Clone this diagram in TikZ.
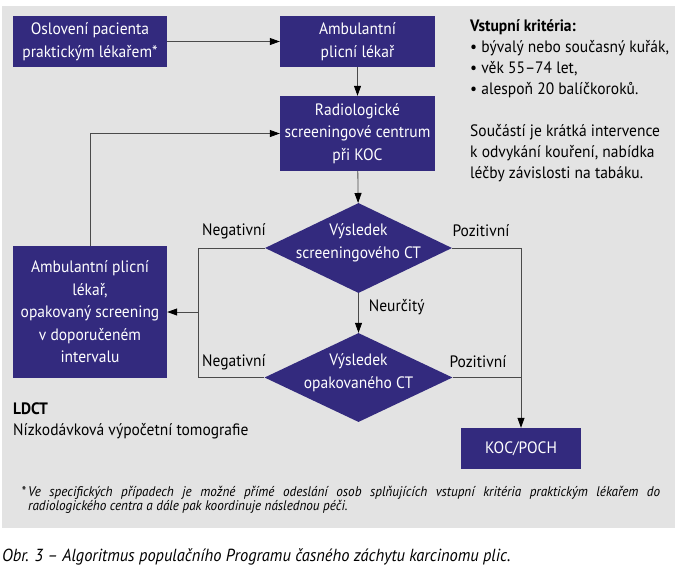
\documentclass[tikz,border=0pt]{standalone}
\usepackage{fontspec}
\setmainfont[FakeStretch=0.94]{PT Sans}
\usetikzlibrary{arrows.meta,shapes.geometric,calc}

\definecolor{boxblue}{HTML}{332A7E}
\definecolor{panelgray}{HTML}{E3E3E3}
\definecolor{linegray}{HTML}{4A4A4A}

\newcommand\boxfont{\fontsize{16.5}{22.5}\selectfont}
\newcommand\notefont{\fontsize{16.5}{21}\selectfont}
\newcommand\footfont{\fontsize{14}{14.5}\selectfont\itshape}

\tikzset{
  stepbox/.style={fill=boxblue, text=white, align=center, inner sep=0pt, font=\boxfont},
  decision/.style={diamond, fill=boxblue, inner sep=0pt},
  dtext/.style={text=white, align=center, inner sep=0pt, font=\boxfont},
  conn/.style={draw=linegray, line width=0.8pt},
  tip/.style={-{Triangle[length=10pt,width=7pt,black]}},
  lbl/.style={font=\boxfont, inner sep=0pt}
}

\begin{document}
\begin{tikzpicture}[x=1pt, y=-1pt]
   \useasboundingbox (0,0) rectangle (676,579);
   \fill[panelgray] (2,6) rectangle (675,528);

   % boxes
   \node[stepbox, minimum width=154, minimum height=51] (osl) at (90,41.5) {Oslovení pacienta\\praktickým lékařem*};
   \node[stepbox, minimum width=155, minimum height=51] (amb) at (357.5,41.5) {Ambulantní\\plicní lékař};
   \node[stepbox, minimum width=155, minimum height=75] (radio) at (357.5,133.5) {Radiologické\\screeningové centrum\\při KOC};
   \node[stepbox, minimum width=154, minimum height=132] (opak) at (90,312) {Ambulantní plicní\\lékař,\\opakovaný screening\\v doporučeném\\intervalu};
   \node[stepbox, minimum width=120, minimum height=41] (koc) at (521,448.5) {KOC/POCH};

   % decisions
   \node[decision, minimum width=187, minimum height=90] (vys1) at (358.5,248) {};
   \node[dtext] (vys1t) at (358.5,243) {Výsledek\\screeningového CT};
   \node[decision, minimum width=188, minimum height=89] (vys2) at (358.5,377.5) {};
   \node[dtext] (vys2t) at (358.5,372.5) {Výsledek\\opakovaného CT};

   % labels
   \foreach \y/\id in {231/1, 362/2}
      \node[lbl] (neg\id) at (234,\y) {Negativní};
   \foreach \x/\y/\id in {481/231/1, 478/362/2}
      \node[lbl] (poz\id) at (\x,\y) {Pozitivní};

   % arrows
   \draw[conn, tip] (osl) -- (amb);
   \draw[conn, tip] (amb) -- (radio);
   \draw[conn, tip] (radio) -- (vys1);
   \draw[conn, tip] (vys1) -- node[lbl, pos=0.35, right=10pt] (neur) {Neurčitý} (vys2);
   \draw[conn, tip] (vys1.east) -| (koc.north);
   \draw[conn] (vys2.east) -- (vys2.east -| koc.north);

   \coordinate (negmid) at (198,312);
   \draw[conn] (vys1.west) -- (vys1.west -| negmid) -- (vys2.west -| negmid) -- (vys2.west);
   \draw[conn, tip] (negmid) -- (opak.east);
   \draw[conn, tip] (opak.north) |- (radio.west);

   % texts
   \node[anchor=west, align=left, font=\notefont, inner sep=0pt] (krit) at (470,100.5)
      {\textbf{Vstupní kritéria:}\\
       \textbullet\ bývalý nebo současný kuřák,\\
       \textbullet\ věk 55–74 let,\\
       \textbullet\ alespoň 20 balíčkoroků.\\[21pt]
       Součástí je krátká intervence\\
       k odvykání kouření, nabídka\\
       léčby závislosti na tabáku.};
   \node[anchor=west, align=left, font=\boxfont, inner sep=0pt] (ldct) at (13,421)
      {\textbf{LDCT}\\[-1.5pt] Nízkodávková výpočetní tomografie};

   \node[anchor=west, text width=632, align=justify, font=\footfont, inner sep=0pt] (pozn) at (28,500)
      {\llap{*\,}Ve specifických případech je možné přímé odeslání osob splňujících vstupní kritéria praktickým lékařem do\linebreak
       radiologického centra a dále pak koordinuje následnou péči.};

   \node[anchor=west, font=\fontsize{17.5}{20}\selectfont\itshape, inner sep=0pt] (obr) at (2,557)
      {Obr. 3 – Algoritmus populačního Programu časného záchytu karcinomu plic.};
\end{tikzpicture}
\end{document}
